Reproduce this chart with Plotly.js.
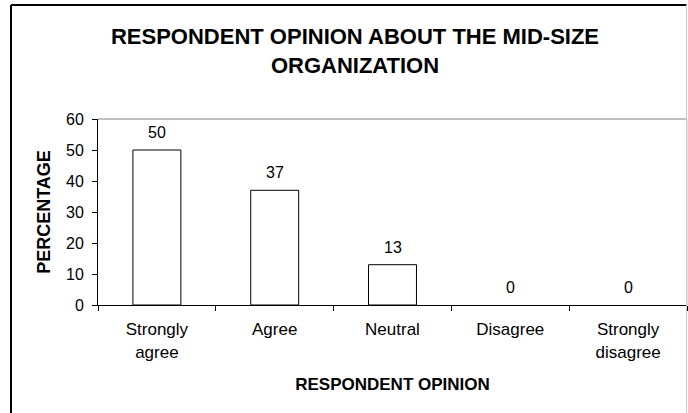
<!DOCTYPE html>
<html>
<head>
<meta charset="utf-8">
<script src="https://cdn.plot.ly/plotly-3.0.1.min.js"></script>
<style>html,body{margin:0;padding:0;background:#fff;}#chart{width:688px;height:413px;}</style>
</head>
<body>
<div id="chart"></div>
<script>
const categories = ["Strongly<br>agree", "Agree", "Neutral", "Disagree", "Strongly<br>disagree"];
const percentages = [50, 37, 13, 0, 0];
const yTickValues = [0, 10, 20, 30, 40, 50, 60];

const FONT = "Liberation Sans, Arial, sans-serif";

const trace = {
  type: "bar",
  x: categories,
  y: percentages,
  marker: { color: "#ffffff", line: { color: "#000000", width: percentages.map(v => v > 0 ? 1 : 0) } },
  hoverinfo: "skip",
  showlegend: false
};

const labelAnnotations = categories.map((c, i) => ({
  x: c, y: percentages[i], xref: "x", yref: "y",
  text: String(percentages[i]), showarrow: false,
  yanchor: "bottom", yshift: 7,
  font: { family: FONT, size: 16, color: "#000" }
}));

const layout = {
  width: 688, height: 413,
  margin: { l: 98, r: 1, t: 119, b: 108 },
  paper_bgcolor: "#ffffff", plot_bgcolor: "#ffffff",
  font: { family: FONT, color: "#000" },
  title: {
    text: "<b>RESPONDENT OPINION ABOUT THE MID-SIZE<br>ORGANIZATION</b>",
    x: 0.516, xref: "container", xanchor: "center",
    y: 1 - 44/413, yref: "container", yanchor: "top",
    font: { family: FONT, size: 22, color: "#000" }
  },
  bargap: 0.593,
  xaxis: {
    type: "category",
    showline: true, linecolor: "#000", linewidth: 1,
    ticks: "outside", ticklen: 5, tickcolor: "#000", tickson: "boundaries",
    ticklabelstandoff: 9,
    tickfont: { family: FONT, size: 17, color: "#000" },
    showgrid: false, zeroline: false, fixedrange: true,
    title: { text: "<b>RESPONDENT OPINION</b>", font: { family: FONT, size: 17, color: "#000" }, standoff: 17 }
  },
  yaxis: {
    range: [0, 60], tickvals: yTickValues, ticktext: yTickValues.map(String),
    showline: true, linecolor: "#000", linewidth: 1,
    ticks: "outside", ticklen: 5, tickcolor: "#000",
    ticklabelstandoff: 5,
    tickfont: { family: FONT, size: 16, color: "#000" },
    showgrid: false, zeroline: false, fixedrange: true,
    title: { text: "<b>PERCENTAGE</b>", font: { family: FONT, size: 18, color: "#000" }, standoff: 10 }
  },
  annotations: labelAnnotations,
  shapes: [
    { type: "line", xref: "paper", yref: "paper", x0: 0, x1: 1, y0: 1, y1: 1, line: { color: "#808080", width: 1 } },
    { type: "line", xref: "paper", yref: "paper", x0: 1, x1: 1, y0: 0, y1: 1, line: { color: "#c8c8c8", width: 1 } },
    { type: "line", xref: "paper", yref: "paper", x0: -87/589, x1: -87/589, y0: -115/186, y1: 300/186, line: { color: "#000", width: 2 } },
    { type: "line", xref: "paper", yref: "paper", x0: -87/589, x1: 588.5/589, y0: 300/186, y1: 300/186, line: { color: "#000", width: 2 } },
    { type: "line", xref: "paper", yref: "paper", x0: 588.5/589, x1: 588.5/589, y0: -115/186, y1: 300/186, line: { color: "#c8c8c8", width: 1 } }
  ]
};

Plotly.newPlot("chart", [trace], layout, { displayModeBar: false, staticPlot: true });
</script>
</body>
</html>
